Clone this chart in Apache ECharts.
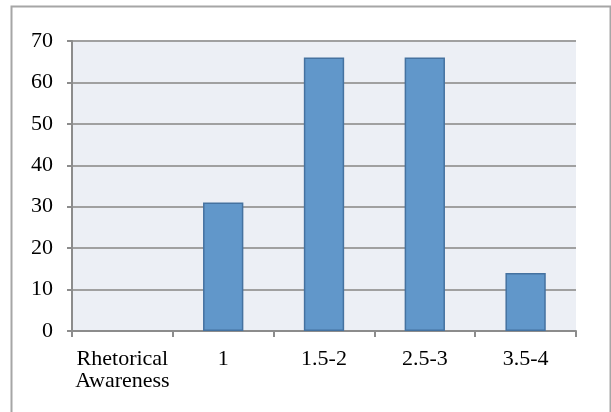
<!DOCTYPE html>
<html>
<head>
<meta charset="utf-8">
<script src="https://cdn.jsdelivr.net/npm/echarts@6/dist/echarts.min.js"></script>
<style>
  html, body { margin: 0; padding: 0; background: #ffffff; }
  #chart { width: 611px; height: 412px; }
</style>
</head>
<body>
<div id="chart"></div>
<script>
// Rhetorical awareness score bands and their counts
const categories = ['Rhetorical\nAwareness', '1', '1.5-2', '2.5-3', '3.5-4'];
const counts = [null, 31, 66, 66, 14];
const yTicks = { min: 0, max: 70, interval: 10 };

const FONT = 'Liberation Serif';
const chart = echarts.init(document.getElementById('chart'), null, { renderer: 'canvas' });

chart.setOption({
  animation: false,
  backgroundColor: '#ffffff',
  graphic: [{
    type: 'rect',
    shape: { x: 11.5, y: 6.5, width: 599, height: 430 },
    style: { fill: 'none', stroke: '#a6a6a6', lineWidth: 2 },
    silent: true
  }],
  grid: {
    left: 72, top: 41, width: 504, height: 290,
    show: true, backgroundColor: '#eceff5', borderWidth: 0
  },
  xAxis: {
    type: 'category',
    data: categories,
    axisLine: { show: true, lineStyle: { color: '#8c8c8c', width: 2 } },
    axisTick: { show: true, alignWithLabel: false, length: 6, lineStyle: { color: '#8c8c8c', width: 2 } },
    axisLabel: { color: '#000000', fontFamily: FONT, fontSize: 22, margin: 17, lineHeight: 22, interval: 0 },
    splitLine: { show: false }
  },
  yAxis: {
    type: 'value',
    min: yTicks.min, max: yTicks.max, interval: yTicks.interval,
    axisLine: { show: true, lineStyle: { color: '#8c8c8c', width: 2 } },
    axisTick: { show: true, length: 5, lineStyle: { color: '#8c8c8c', width: 2 } },
    axisLabel: { color: '#000000', fontFamily: FONT, fontSize: 22, margin: 19, padding: [3, 0, 0, 0] },
    splitLine: { show: true, lineStyle: { color: '#a0a0a0', width: 2 } }
  },
  series: [{
    type: 'bar',
    data: counts,
    barWidth: '40%',
    itemStyle: { color: '#6197ca', borderColor: '#4572a0', borderWidth: 1.5 }
  }]
});
</script>
</body>
</html>
